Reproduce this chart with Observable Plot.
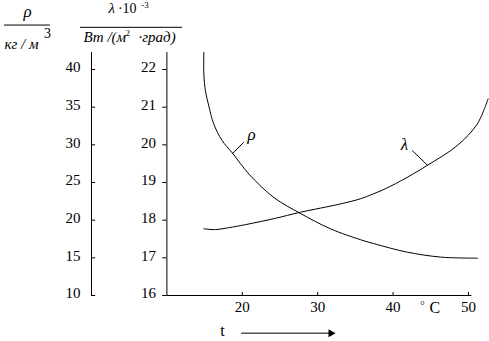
<!DOCTYPE html>
<html>
<head>
<meta charset="utf-8">
<script src="https://cdn.jsdelivr.net/npm/d3@7"></script>
<script src="https://cdn.jsdelivr.net/npm/@observablehq/plot@0.6"></script>
<style>
  html, body { margin: 0; padding: 0; background: #fff; }
  svg { display: block; }
</style>
</head>
<body>
<div id="chart"></div>
<script>
// Temperature ticks (°C)
const xTicks = [20, 30, 40, 50];
// Density axis ticks (кг/м³)
const rhoTicks = [10, 15, 20, 25, 30, 35, 40];
// Thermal conductivity axis ticks (λ·10⁻³)
const lamTicks = [16, 17, 18, 19, 20, 21, 22];

// ρ curve: temperature and density
const rhoT   = [14.9, 14.9, 15.1, 15.6, 16.2, 17.3, 18.7, 20.9, 24.2, 27.7, 31.7, 35.7, 37.4, 41.9, 46.3, 51.2];
const rhoVal = [42.3, 39.4, 37.2, 35.0, 32.8, 30.6, 28.9, 26.1, 23.0, 20.9, 18.85, 17.4, 16.9, 15.75, 15.1, 14.95];

// λ curve: temperature and conductivity
const lamT   = [14.9, 16.45, 18.2, 20.4, 24.4, 27.7, 33.0, 35.7, 37.4, 38.6, 41.0, 44.5, 48.5, 51.15, 52.6];
const lamVal = [17.77, 17.75, 17.80, 17.88, 18.05, 18.21, 18.43, 18.57, 18.70, 18.80, 19.04, 19.45, 19.98, 20.55, 21.22];

// density axis shares positions with conductivity axis: 10 ↔ 16, 40 ↔ 22
const toL = r => 16 + (r - 10) / 5;

const rhoData = rhoT.map((t, i) => ({t, v: toL(rhoVal[i])}));
const lamData = lamT.map((t, i) => ({t, v: lamVal[i]}));

const F = "Liberation Serif";
const txt = (data, o) => Plot.text(data, {fontFamily: F, fill: "#000", stroke: null, ...o});

const chart = Plot.plot({
  width: 489,
  height: 341,
  marginLeft: 91,
  marginRight: 21,
  marginTop: 69,
  marginBottom: 46,
  x: {domain: [0, 50], axis: null},
  y: {domain: [16, 22], axis: null},
  style: {background: "#fff", color: "#000"},
  marks: [
    // axis lines
    Plot.ruleX([0, 10], {y1: 16, y2: 22.45, stroke: "#000", strokeWidth: 1}),
    Plot.ruleY([16], {x1: 10, x2: 50.45, stroke: "#000", strokeWidth: 1}),
    // ticks
    Plot.ruleY(rhoTicks, {y: d => toL(d), x1: 0, x2: 0.55, stroke: "#000"}),
    Plot.ruleY(lamTicks, {y: d => d, x1: 9.45, x2: 10, stroke: "#000"}),
    Plot.ruleX(xTicks, {x: d => d, y1: 16, y2: 16.08, stroke: "#000"}),
    // tick labels
    txt(rhoTicks, {x: 0, y: d => toL(d), text: d => String(d), textAnchor: "end", dx: -11, dy: -2, fontSize: 15}),
    txt(lamTicks, {x: 10, y: d => d, text: d => String(d), textAnchor: "end", dx: -11, dy: -2, fontSize: 15}),
    txt(xTicks, {x: d => d, y: 16, text: d => String(d), dy: 12, fontSize: 15}),
    // unit °C
    txt(["°"], {x: 43.9, y: 16, text: d => d, dy: 10, fontSize: 11}),
    txt(["C"], {x: 45.55, y: 16, text: d => d, dy: 12.5, fontSize: 16}),
    // t with arrow
    txt(["t"], {x: 17.37, y: 15.07, text: d => d, fontSize: 16}),
    Plot.link([0], {x1: 19.85, x2: 31.8, y1: 15.0, y2: 15.0, stroke: "#000", strokeWidth: 1}),
    Plot.dot([0], {x: 31.74, y: 15.0, symbol: "triangle", rotate: 90, r: 3, fill: "#000", stroke: null}),
    // curves
    Plot.line(rhoData, {x: "t", y: "v", curve: "catmull-rom", stroke: "#000", strokeWidth: 1}),
    Plot.line(lamData, {x: "t", y: "v", curve: "catmull-rom", stroke: "#000", strokeWidth: 1}),
    // curve labels with leaders
    Plot.link([0], {x1: 18.66, y1: 19.76, x2: 20.2, y2: 20.07, stroke: "#000", strokeWidth: 1}),
    txt(["ρ"], {x: 21.22, y: 20.27, text: d => d, fontSize: 17, fontStyle: "italic"}),
    Plot.link([0], {x1: 42.53, y1: 19.85, x2: 44.6, y2: 19.45, stroke: "#000", strokeWidth: 1}),
    txt(["λ"], {x: 41.51, y: 20.0, text: d => d, fontSize: 17, fontStyle: "italic"}),
    // header: ρ / кг/м³
    txt(["ρ"], {x: -8.49, y: 23.53, text: d => d, fontSize: 17, fontStyle: "italic"}),
    Plot.ruleY([23.18], {x1: -11.54, x2: -5.44, stroke: "#000", strokeWidth: 1}),
    txt(["кг / м"], {x: -11.54, y: 22.66, text: d => d, textAnchor: "start", fontSize: 15, fontStyle: "italic"}),
    txt(["3"], {x: -6.3, y: 22.96, text: d => d, textAnchor: "start", fontSize: 14}),
    // header: λ·10⁻³ / Вт/(м²·град)
    txt(["λ"], {x: 2.25, y: 23.63, text: d => d, textAnchor: "start", fontSize: 15, fontStyle: "italic"}),
    txt(["·10"], {x: 3.5, y: 23.63, text: d => d, textAnchor: "start", fontSize: 14}),
    txt(["-3"], {x: 6.6, y: 23.70, text: d => d, textAnchor: "start", fontSize: 9}),
    Plot.ruleY([23.12], {x1: -1.46, x2: 12.07, stroke: "#000", strokeWidth: 1}),
    txt(["Вт /(м"], {x: -1.06, y: 22.87, text: d => d, textAnchor: "start", fontSize: 15, fontStyle: "italic"}),
    txt(["2"], {x: 4.51, y: 22.96, text: d => d, textAnchor: "start", fontSize: 9}),
    txt(["·град)"], {x: 6.23, y: 22.87, text: d => d, textAnchor: "start", fontSize: 15, fontStyle: "italic"})
  ]
});
chart.setAttribute("font-family", F);
chart.querySelectorAll("text").forEach(t => {
  const g = t.closest("g[font-family]") || t.parentNode;
  t.setAttribute("font-family", F);
  const fs = g && g.getAttribute && g.getAttribute("font-size");
  if (fs) t.setAttribute("font-size", fs);
  const st = g && g.getAttribute && g.getAttribute("font-style");
  if (st) t.setAttribute("font-style", st);
});
document.getElementById("chart").appendChild(chart);
</script>
</body>
</html>
